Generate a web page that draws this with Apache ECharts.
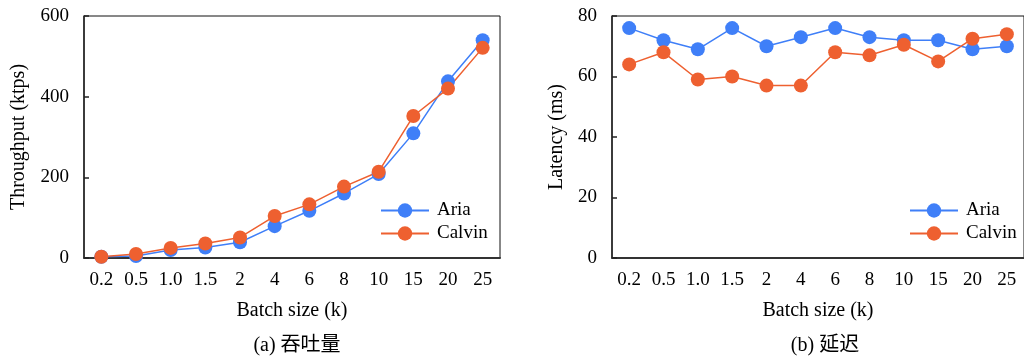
<!DOCTYPE html>
<html>
<head>
    <meta charset="utf-8">
    <title>ECharts</title>
    <script src="https://cdn.jsdelivr.net/npm/echarts@6/dist/echarts.min.js"></script>
    <style>
        html, body { margin: 0; padding: 0; background: #fff; }
    </style>
</head>
<body>
<div id="main" style="width: 1024px;height:358px;"></div>
<script type="text/javascript">
    // 数据
    var batchSizes = ['0.2', '0.5', '1.0', '1.5', '2', '4', '6', '8', '10', '15', '20', '25'];
    var ariaThroughput = [3, 5, 20, 26, 39, 79, 117, 160, 208, 309, 438, 540];
    var calvinThroughput = [3, 10, 25, 36, 51, 104, 133, 177, 214, 352, 420, 521];
    var ariaLatency = [76, 72, 69, 76, 70, 73, 76, 73, 72, 72, 69, 70];
    var calvinLatency = [64, 68, 59, 60, 57, 57, 68, 67, 70.5, 65, 72.5, 74];
    var throughputTicks = [0, 200, 400, 600];
    var latencyTicks = [0, 20, 40, 60, 80];

    var blue = '#3f7ff8';
    var orange = '#ee6030';
    var font = '"Liberation Serif", "Times New Roman", "Noto Sans CJK SC", serif';

    function xAxis(gridIndex) {
        return {
            type: 'category',
            gridIndex: gridIndex,
            data: batchSizes,
            boundaryGap: true,
            name: 'Batch size (k)',
            nameLocation: 'middle',
            nameGap: 43,
            nameTextStyle: { fontFamily: font, fontSize: 20, color: '#000' },
            axisLine: { lineStyle: { color: '#333', width: 2 } },
            axisTick: { alignWithLabel: true, inside: true, length: 5, lineStyle: { color: '#222', width: 1.5 } },
            axisLabel: { fontFamily: font, fontSize: 19, color: '#000', margin: 13, interval: 0 }
        };
    }

    function yAxis(gridIndex, name, ticks, gap) {
        return {
            type: 'value',
            gridIndex: gridIndex,
            min: ticks[0],
            max: ticks[ticks.length - 1],
            interval: ticks[1] - ticks[0],
            name: name,
            nameLocation: 'middle',
            nameGap: gap,
            nameTextStyle: { fontFamily: font, fontSize: 20, color: '#000' },
            axisLine: { show: true, lineStyle: { color: '#222', width: 1.5 } },
            axisTick: { show: true, inside: true, length: 5, lineStyle: { color: '#222', width: 1.5 } },
            axisLabel: { fontFamily: font, fontSize: 19, color: '#000', margin: 15 },
            splitLine: { show: false }
        };
    }

    function lineSeries(name, color, data, idx) {
        return {
            name: name,
            type: 'line',
            xAxisIndex: idx,
            yAxisIndex: idx,
            data: data,
            symbol: 'circle',
            symbolSize: 14,
            color: color,
            lineStyle: { width: 1.5, color: color },
            itemStyle: { color: color },
            animation: false
        };
    }

    function legend(left) {
        return {
            orient: 'vertical',
            left: left,
            top: 196,
            itemWidth: 48,
            itemHeight: 18,
            itemGap: 4,
            data: ['Aria', 'Calvin'],
            textStyle: { fontFamily: font, fontSize: 19, lineHeight: 18, color: '#000', padding: [0, 0, 0, 3] }
        };
    }

    var myChart = echarts.init(document.getElementById('main'));
    var option = {
        backgroundColor: '#fff',
        animation: false,
        title: [
            { text: '(a) 吞吐量', left: 292, top: 331, textAlign: 'center',
              textStyle: { fontFamily: font, fontSize: 20, fontWeight: 'normal', color: '#000' } },
            { text: '(b) 延迟', left: 820, top: 331, textAlign: 'center',
              textStyle: { fontFamily: font, fontSize: 20, fontWeight: 'normal', color: '#000' } }
        ],
        legend: [legend(375), legend(904)],
        grid: [
            { left: 84, top: 16, width: 416, height: 242, show: true, borderColor: '#111', borderWidth: 1 },
            { left: 612, top: 16, width: 416, height: 242, show: true, borderColor: '#111', borderWidth: 1 }
        ],
        xAxis: [xAxis(0), xAxis(1)],
        yAxis: [
            yAxis(0, 'Throughput (ktps)', throughputTicks, 55),
            yAxis(1, 'Latency (ms)', latencyTicks, 45)
        ],
        series: [
            lineSeries('Aria', blue, ariaThroughput, 0),
            lineSeries('Calvin', orange, calvinThroughput, 0),
            lineSeries('Aria', blue, ariaLatency, 1),
            lineSeries('Calvin', orange, calvinLatency, 1)
        ]
    };
    myChart.setOption(option);
</script>
</body>
</html>
